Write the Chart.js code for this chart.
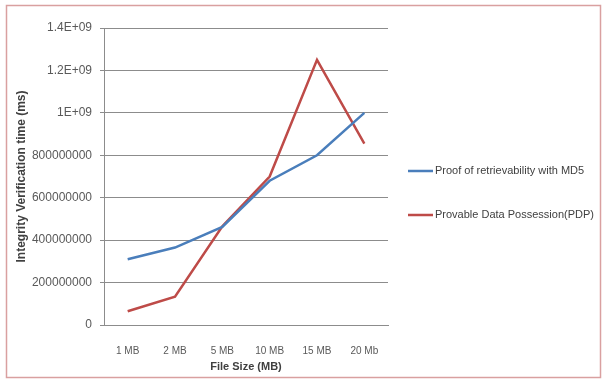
<!DOCTYPE html>
<html>
<head>
<meta charset="utf-8">
<script src="https://cdn.jsdelivr.net/npm/chart.js@4.4.1/dist/chart.umd.min.js"></script>
<style>
  html, body { margin: 0; padding: 0; background: #fff; }
  #wrap { position: relative; width: 603px; height: 381px; }
</style>
</head>
<body>
<div id="wrap"><canvas id="chart" width="603" height="381"></canvas></div>
<script>
// dati
const categories = ['1 MB', '2 MB', '5 MB', '10 MB', '15 MB', '20 Mb'];
const porValues = [310000000, 365000000, 462000000, 680000000, 800000000, 1000000000];
const pdpValues = [65000000, 133000000, 465000000, 700000000, 1250000000, 855000000];
const seriesNames = ['Proof of retrievability with MD5', 'Provable Data Possession(PDP)'];
const yTickLabels = ['0', '200000000', '400000000', '600000000', '800000000', '1E+09', '1.2E+09', '1.4E+09'];

const FONT = '"Liberation Sans", Arial, sans-serif';

// cornice e legenda disegnate a mano
const framePlugin = {
    id: 'frame',
    afterDraw(chart) {
        const ctx = chart.ctx;
        ctx.save();
        ctx.strokeStyle = '#d9a0a0';
        ctx.lineWidth = 1.5;
        ctx.strokeRect(6.5, 5.5, 594, 372);

        // legenda
        const items = [{ y: 171 }, { y: 215 }];
        chart.data.datasets.forEach((ds, i) => {
            const y = items[i].y;
            ctx.strokeStyle = ds.borderColor;
            ctx.lineWidth = 2.5;
            ctx.beginPath();
            ctx.moveTo(408, y);
            ctx.lineTo(433, y);
            ctx.stroke();
            ctx.fillStyle = '#404040';
            ctx.font = '11px ' + FONT;
            ctx.textBaseline = 'middle';
            ctx.fillText(ds.label, 435, y);
        });
        ctx.restore();
    }
};

new Chart(document.getElementById('chart'), {
    type: 'line',
    data: {
        labels: categories,
        datasets: [
            {
                label: seriesNames[0],
                data: porValues,
                borderColor: '#4a7ebb',
                borderWidth: 2.5,
                pointRadius: 0,
                tension: 0
            },
            {
                label: seriesNames[1],
                data: pdpValues,
                borderColor: '#be4b48',
                borderWidth: 2.5,
                pointRadius: 0,
                tension: 0
            }
        ]
    },
    options: {
        responsive: false,
        animation: false,
        layout: { padding: { left: 14, top: 28, right: 215, bottom: 7 } },
        plugins: {
            legend: { display: false },
            tooltip: { enabled: false }
        },
        scales: {
            x: {
                offset: true,
                grid: { display: false, drawTicks: false },
                border: { color: '#8c8c8c' },
                ticks: {
                    color: '#595959',
                    font: { family: FONT, size: 10 },
                    padding: 20,
                    maxRotation: 0
                },
                title: {
                    display: true,
                    text: 'File Size (MB)',
                    color: '#404040',
                    font: { family: FONT, size: 11, weight: 'bold' },
                    padding: { top: 2, bottom: 0 }
                },
                afterFit(scale) { scale.height = 49; }
            },
            y: {
                min: 0,
                max: 1400000000,
                grid: { color: '#8c8c8c', tickLength: 4 },
                border: { color: '#8c8c8c' },
                ticks: {
                    stepSize: 200000000,
                    color: '#595959',
                    font: { family: FONT, size: 12 },
                    padding: 8,
                    callback: (v, i) => yTickLabels[i]
                },
                title: {
                    display: true,
                    text: 'Integrity Verification time (ms)',
                    color: '#404040',
                    font: { family: FONT, size: 12, weight: 'bold' },
                    padding: { top: 0, bottom: 0 }
                },
                afterFit(scale) { scale.width = 90; }
            }
        }
    },
    plugins: [framePlugin]
});
</script>
</body>
</html>
